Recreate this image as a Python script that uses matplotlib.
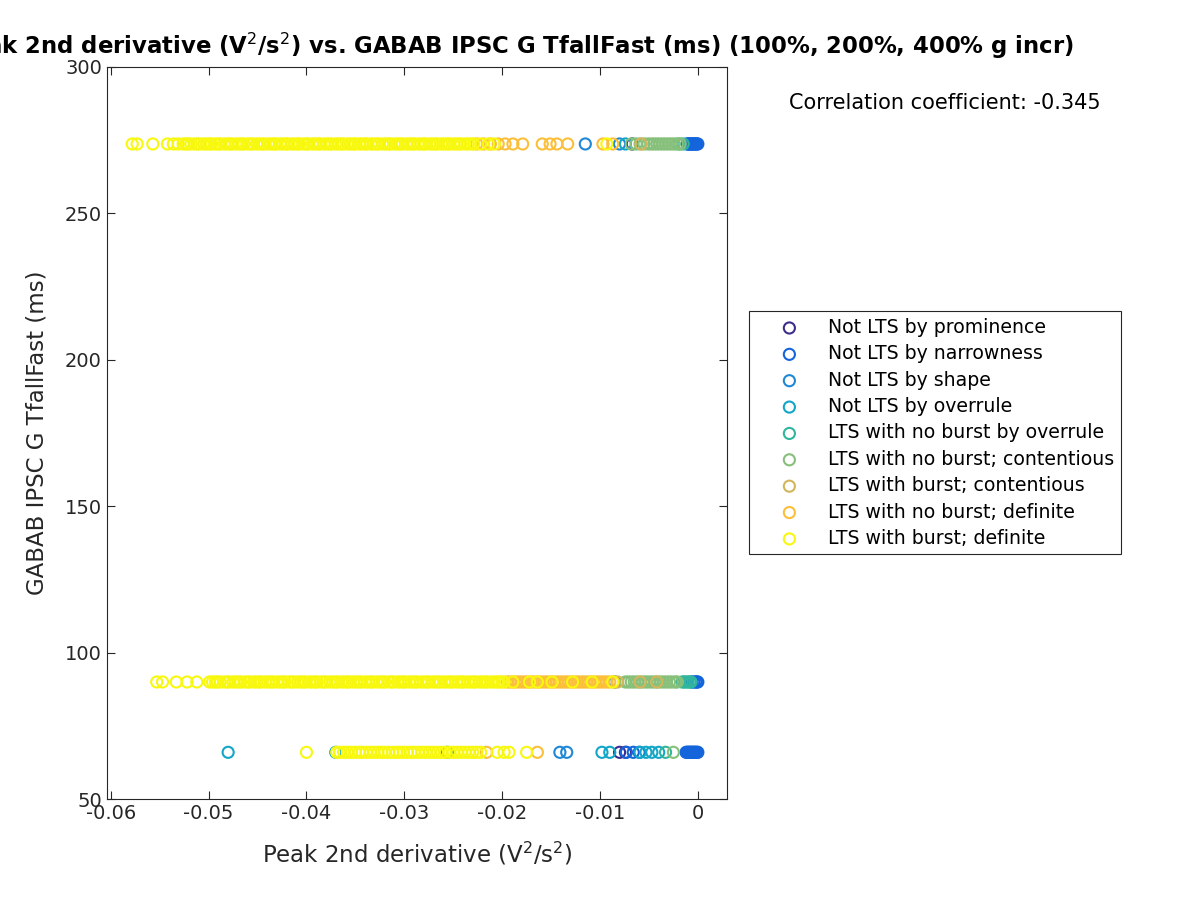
# -*- coding: utf-8 -*-
import matplotlib as mpl
mpl.use('Agg')
import matplotlib.pyplot as plt

#------------------ Data ----------------------
# x values are in units of 1e-4 V^2/s^2, one list per class and per band
labels = ['Not LTS by prominence', 'Not LTS by narrowness', 'Not LTS by shape',
          'Not LTS by overrule', 'LTS with no burst by overrule',
          'LTS with no burst; contentious', 'LTS with burst; contentious',
          'LTS with no burst; definite', 'LTS with burst; definite']
colors = ['#3b2d8e', '#1464dc', '#1f88d6', '#12a6c8', '#30b59e',
          '#86c07a', '#d3b65c', '#fbbf3a', '#f8f80f']

band_y = [273.6, 90.0, 66.0]

top_x = [
    [-67],
    [-11, -10, -9, -8, -7, -6, -5, -4, -3, -2, -1, 0],
    [-115, -80],
    [-74],
    [-19, -15],
    [-68, -63, -59, -55, -51, -48, -45, -42, -39, -36, -33, -30, -27, -24, -21, -18],
    [-58],
    [-226, -219, -212, -204, -197, -189, -179, -159, -151, -144, -133, -97, -87],
    [-578, -573, -557, -542, -536, -531,
     -526, -523, -521, -518, -514, -511, -509, -505, -502, -499, -497, -493, -490, -488,
     -484, -481, -478, -476, -472, -469, -466, -464, -460, -457, -455, -451, -448, -445,
     -443, -439, -436, -433, -431, -427, -424, -421, -419, -415, -412, -409, -407, -403,
     -400, -398, -394, -391, -388, -386, -382, -379, -376, -374, -370, -367, -364, -362,
     -358, -355, -352, -350, -346, -343, -340, -338, -334, -331, -328, -326, -322, -319,
     -316, -314, -310, -307, -304, -302, -298, -295, -292, -290, -286, -283, -280, -278,
     -274, -271, -268, -266, -262, -259, -256, -254, -250, -247, -244, -242, -238, -235,
     -232, -229, -222, -214, -208, -93],
]

mid_x = [
    [],
    [-6, -4, -2, -1, 0],
    [-85],
    [],
    [-16, -14, -12, -10, -8, -7],
    [-74, -71, -68, -65, -62, -59, -56, -53, -50, -47, -44, -41, -38, -35, -32, -29,
     -26, -23, -21],
    [-82, -59, -42],
    [-195, -192, -189, -186, -183, -180, -177, -174, -171, -168, -165, -162, -159, -156,
     -153, -150, -147, -144, -141, -138, -135, -132, -129, -126, -123, -120, -117, -114,
     -111, -108, -105, -102, -99, -96, -93, -90, -86],
    [-553, -547, -533, -522, -512, -499,
     -496, -493, -491, -488, -484, -481, -479, -475, -472, -469, -467, -463, -460, -458,
     -454, -451, -448, -446, -442, -439, -436, -434, -430, -427, -424, -422, -418, -415,
     -413, -409, -406, -403, -401, -397, -394, -391, -389, -385, -382, -380, -376, -373,
     -370, -368, -364, -361, -358, -356, -352, -349, -346, -344, -340, -337, -334, -332,
     -328, -325, -322, -320, -316, -313, -311, -307, -304, -301, -299, -295, -292, -289,
     -287, -283, -280, -277, -275, -271, -268, -265, -263, -259, -256, -253, -251, -247,
     -244, -241, -239, -235, -232, -229, -227, -223, -220, -217, -215, -211, -208, -205,
     -203, -200, -198,
     -189, -172, -164, -149, -128, -108, -87],
]

bot_x = [
    [-80, -74],
    [-73, -66, -60, -12, -11, -10, -9, -8, -7, -6, -5, -4, -3, -2, -1, 0],
    [-141, -134],
    [-480, -370, -256, -98, -90, -59, -53, -47, -40],
    [-33],
    [-25],
    [],
    [-216, -164],
    [-400, -369, -366, -362, -358, -354, -350, -346, -343, -339, -335, -331, -327, -323,
     -320, -316, -312, -308, -305, -301, -297, -293, -290, -286, -282, -278, -274, -270,
     -266, -262, -258, -254, -250, -246, -242, -238, -234, -230, -226, -222, -205, -198,
     -193, -175],
]

title_text = ('Peak 2nd derivative (V$^2$/s$^2$) vs. GABAB IPSC G TfallFast (ms) '
              '(100%, 200%, 400% g incr)')
corr_text = 'Correlation coefficient: -0.345'

#------------------ Figure Setup ----------------------
fig = plt.figure(figsize=(12, 9), dpi=100)
ax = fig.add_axes([0.089, 0.112, 0.517, 0.814])

for k in range(len(labels)):
    xs, ys = [], []
    for band, y in zip([top_x, mid_x, bot_x], band_y):
        xs += [v * 1e-4 for v in band[k]]
        ys += [y] * len(band[k])
    ax.scatter(xs, ys, s=64, facecolors='none', edgecolors=colors[k],
               linewidths=1.5, label=labels[k])

ax.set_xlim(-0.0604, 0.003)
ax.set_ylim(50, 300)
ax.set_xticks([-0.06, -0.05, -0.04, -0.03, -0.02, -0.01, 0])
ax.set_xticklabels(['-0.06', '-0.05', '-0.04', '-0.03', '-0.02', '-0.01', '0'])
ax.set_yticks([50, 100, 150, 200, 250, 300])

gray = '#262626'
ax.tick_params(direction='in', length=6, width=0.8, top=True, right=True,
               labelsize=14, colors=gray)
for sp in ax.spines.values():
    sp.set_color(gray)
    sp.set_linewidth(0.8)

ax.set_xlabel('Peak 2nd derivative (V$^2$/s$^2$)', fontsize=16.5, color=gray, labelpad=12)
ax.set_ylabel('GABAB IPSC G TfallFast (ms)', fontsize=16.5, color=gray, labelpad=12)

# title runs off the left edge in the original, right end at x ~ 1074 px
fig.text(0.895, 0.94, title_text, fontsize=16.4, fontweight='bold',
         ha='right', va='baseline')

fig.text(0.7875, 0.8856, corr_text, fontsize=15, ha='center', va='center')

leg = ax.legend(loc='center', bbox_to_anchor=(0.779, 0.519),
                bbox_transform=fig.transFigure, fontsize=13.6, frameon=True,
                fancybox=False, edgecolor=gray, framealpha=1,
                labelspacing=0.39, handlelength=3.6, handletextpad=0.25,
                borderpad=0.35)
leg.get_frame().set_linewidth(0.8)

plt.savefig('out.png', dpi=100)
